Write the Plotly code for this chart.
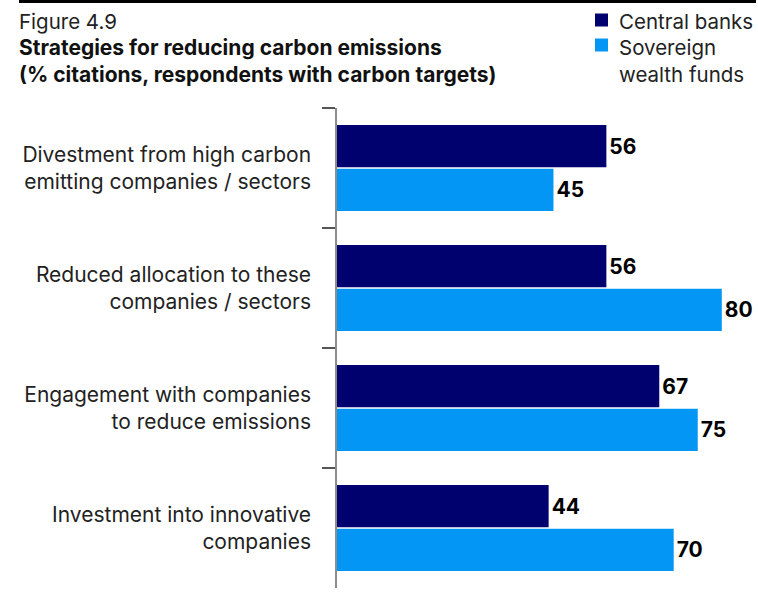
import plotly.graph_objects as go

categories = [
    "Divestment from high carbon<br>emitting companies / sectors",
    "Reduced allocation to these<br>companies / sectors",
    "Engagement with companies<br>to reduce emissions",
    "Investment into innovative<br>companies",
]
series_names = ["Central banks", "Sovereign wealth funds"]
legend_labels = ["Central banks", "Sovereign<br>wealth funds"]
central_banks = [56, 56, 67, 44]
sovereign_wealth = [45, 80, 75, 70]
colors = ["#00006E", "#0496F5"]

fig_title = "Figure 4.9"
fig_subtitle = ["Strategies for reducing carbon emissions",
                "(% citations, respondents with carbon targets)"]

W, H = 758, 592
L, R, T, B = 337, 0, 108, 4
PW, PH = W - L - R, H - T - B
FONT = "Inter"


def px_x(x):
    return (x - L) / PW


def px_y(y):
    return (H - B - y) / PH


fig = go.Figure()
for name, vals, col in zip(series_names, [central_banks, sovereign_wealth], colors):
    fig.add_trace(go.Bar(
        y=categories, x=vals, name=name, orientation="h",
        marker=dict(color=col, line=dict(width=0)),
        text=[str(v) for v in vals], textposition="outside",
        textfont=dict(family=FONT, size=21, color="#000000", weight="bold"),
        cliponaxis=False, showlegend=False,
    ))

fig.update_layout(
    width=W, height=H,
    margin=dict(l=L, r=R, t=T, b=B, autoexpand=False),
    paper_bgcolor="white", plot_bgcolor="white",
    barmode="group", bargap=0.27, bargroupgap=0.036,
    font=dict(family=FONT, color="#222222"),
    xaxis=dict(range=[0, PW / 4.81], visible=False, fixedrange=True),
    yaxis=dict(
        type="category", range=[3.5, -0.5],
        showline=True, linecolor="#8c8c8c", linewidth=1.5,
        ticks="outside", tickson="boundaries", ticklen=13,
        tickcolor="#555555", tickwidth=1.5,
        tickfont=dict(family=FONT, size=21, color="#222222"),
        ticklabelstandoff=20,
        showgrid=False, zeroline=False, fixedrange=True,
    ),
)

# top rule
fig.add_shape(type="line", xref="paper", yref="paper",
              x0=px_x(19), x1=px_x(756), y0=px_y(1.5), y1=px_y(1.5),
              line=dict(color="#000000", width=3))

# titles
fig.add_annotation(text=fig_title, xref="paper", yref="paper",
                   x=px_x(17), y=px_y(6.5), xanchor="left", yanchor="top",
                   showarrow=False, align="left",
                   font=dict(family=FONT, size=20.5, color="#222222"))
fig.add_annotation(text="<br>".join("<b>%s</b>" % s for s in fig_subtitle),
                   xref="paper", yref="paper",
                   x=px_x(17), y=px_y(33.3), xanchor="left", yanchor="top",
                   showarrow=False, align="left",
                   font=dict(family=FONT, size=21, color="#111111"))

# legend
legend_tops = [6.5, 33.5]
square_centers = [20, 45]
for top, sc, label, col in zip(legend_tops, square_centers, legend_labels, colors):
    fig.add_shape(type="rect", xref="paper", yref="paper",
                  x0=px_x(595), x1=px_x(608), y0=px_y(sc + 6.5), y1=px_y(sc - 6.5),
                  fillcolor=col, line=dict(width=0))
    fig.add_annotation(text=label, xref="paper", yref="paper",
                       x=px_x(617), y=px_y(top), xanchor="left", yanchor="top",
                       showarrow=False, align="left",
                       font=dict(family=FONT, size=20.5, color="#222222"))

fig.write_html("out.html", config={"displayModeBar": False},
               post_script="document.body.style.margin='0';")
